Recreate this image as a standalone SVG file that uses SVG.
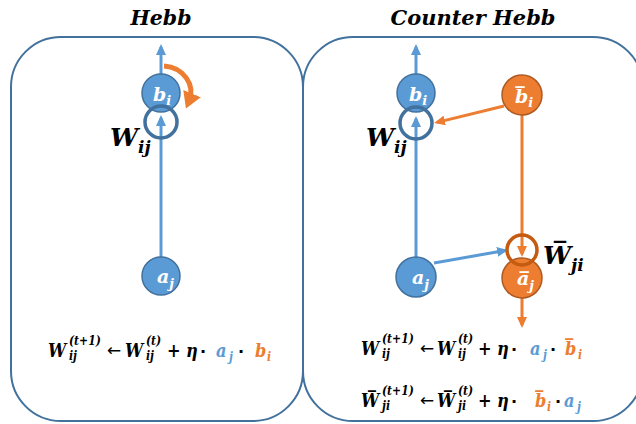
<svg xmlns="http://www.w3.org/2000/svg" width="636" height="424" viewBox="0 0 636 424">
<defs>
<style>
.box{fill:#fff;stroke:#41719c;stroke-width:2}
.bn{fill:#5b9bd5;stroke:#41719c;stroke-width:1.5}
.on{fill:#ed7d31;stroke:#ae5a21;stroke-width:1.5}
.wc{fill:none;stroke:#41719c;stroke-width:3.5}
.wo{fill:none;stroke:#c55a11;stroke-width:3.5}
.bl{stroke:#5b9bd5;stroke-width:3;fill:none}
.ol{stroke:#ed7d31;stroke-width:3;fill:none}
.m{font-family:"DejaVu Serif",serif;font-weight:bold;font-style:italic}
.nl{font-family:"DejaVu Serif",serif;font-weight:bold;font-style:italic;fill:#fff}
.t{font-family:"DejaVu Serif",serif;font-weight:bold;font-style:italic;font-size:21px;fill:#000;text-anchor:middle}
.f{font-family:"DejaVu Serif Condensed","DejaVu Serif",serif;font-stretch:condensed;font-weight:bold;font-style:italic;font-size:18px;fill:#000}
.s{font-family:"DejaVu Serif Condensed","DejaVu Serif",serif;font-stretch:condensed;font-weight:bold;font-style:italic;font-size:12px;fill:#000}
.d{font-family:"DejaVu Sans",sans-serif;font-weight:bold;font-size:16px;fill:#000}
.arr{font-family:"DejaVu Sans",sans-serif;font-size:17px;fill:#000}
.cb{fill:#5b9bd5}
.co{fill:#ed7d31}
</style>
<marker id="ab" markerUnits="userSpaceOnUse" markerWidth="11" markerHeight="10" refX="8" refY="5" orient="auto"><path d="M0,0 L11,5 L0,10 z" fill="#5b9bd5"/></marker>
<marker id="ao" markerUnits="userSpaceOnUse" markerWidth="11" markerHeight="10" refX="8" refY="5" orient="auto"><path d="M0,0 L11,5 L0,10 z" fill="#ed7d31"/></marker>
<marker id="aobig" markerUnits="userSpaceOnUse" markerWidth="16" markerHeight="19" refX="8" refY="9.5" orient="auto"><path d="M0,0 L16,9.5 L0,19 z" fill="#ed7d31"/></marker>
</defs>
<rect width="636" height="424" fill="#fff"/>
<g id="box-hebb"><rect class="box" x="11" y="37" width="292" height="384" rx="50" ry="50"/></g>
<g id="box-counter-hebb"><rect class="box" x="303" y="37" width="340" height="384" rx="50" ry="50"/></g>
<text class="t" x="161" y="25" textLength="61" lengthAdjust="spacingAndGlyphs">Hebb</text>
<text class="t" x="473" y="25" textLength="165" lengthAdjust="spacingAndGlyphs">Counter Hebb</text>
<g id="connectors">
<line class="bl" x1="161" y1="258" x2="161" y2="118" marker-end="url(#ab)"/>
<line class="bl" x1="161" y1="75" x2="161" y2="47" marker-end="url(#ab)"/>
<path d="M164,66 A29,26 0 0 1 189,101" stroke="#ed7d31" stroke-width="5" fill="none" marker-end="url(#aobig)"/>
<line class="bl" x1="416" y1="258" x2="416" y2="119" marker-end="url(#ab)"/>
<line class="bl" x1="416" y1="75" x2="416" y2="47" marker-end="url(#ab)"/>
<line class="ol" x1="504" y1="106" x2="437" y2="122.4" marker-end="url(#ao)"/>
<line class="ol" x1="522" y1="115" x2="522" y2="254" marker-end="url(#ao)"/>
<line class="bl" x1="434" y1="263" x2="505" y2="250.5" marker-end="url(#ab)"/>
<line class="ol" x1="522" y1="298" x2="522" y2="325" marker-end="url(#ao)"/>
</g>
<g id="hebb-b">
<circle class="bn" cx="161" cy="93" r="19"/>
<text class="nl" x="153" y="101" font-size="19">b<tspan font-size="13" dy="4">i</tspan></text>
</g>
<g id="hebb-w">
<circle class="wc" cx="161" cy="122" r="16"/>
<text class="m" x="110" y="146" font-size="25">W<tspan font-size="17" dy="7">ij</tspan></text>
</g>
<g id="hebb-a">
<circle class="bn" cx="161" cy="276" r="19"/>
<text class="nl" x="157" y="283" font-size="19">a<tspan font-size="13" dy="5">j</tspan></text>
</g>
<g id="counter-b">
<circle class="bn" cx="416" cy="93" r="19"/>
<text class="nl" x="409" y="101" font-size="19">b<tspan font-size="13" dy="4">i</tspan></text>
</g>
<g id="counter-w">
<circle class="wc" cx="416" cy="123" r="16"/>
<text class="m" x="366" y="146" font-size="25">W<tspan font-size="17" dy="7">ij</tspan></text>
</g>
<g id="counter-a">
<circle class="bn" cx="416" cy="277" r="20"/>
<text class="nl" x="412" y="284" font-size="19">a<tspan font-size="13" dy="5">j</tspan></text>
</g>
<g id="counter-bbar">
<circle class="on" cx="522" cy="95" r="20"/>
<text class="nl" x="515" y="103" font-size="19">b̅<tspan font-size="13" dy="4">i</tspan></text>
</g>
<g id="counter-abar">
<circle class="on" cx="522" cy="278" r="20"/>
<text class="nl" x="517" y="285" font-size="19">a̅<tspan font-size="13" dy="5">j</tspan></text>
</g>
<g id="counter-wbar">
<circle class="wo" cx="522" cy="250" r="15"/>
<text class="m" x="543" y="264" font-size="25">W̅<tspan font-size="17" dy="7">ji</tspan></text>
</g>
<g id="formula-hebb">
<text class="f" x="48" y="357">W</text>
<text class="s" x="69" y="345">(t+1)</text>
<text class="s" x="69" y="360">ij</text>
<text class="arr" x="107" y="356">←</text>
<text class="f" x="125" y="357">W</text>
<text class="s" x="146" y="345">(t)</text>
<text class="s" x="146" y="360">ij</text>
<text class="f" x="167" y="357">+</text>
<text class="f" x="186" y="357">η</text>
<text class="d" x="200" y="357">·</text>
<text class="f cb" x="216" y="357">a</text>
<text class="s cb" x="229" y="361">j</text>
<text class="d" x="238" y="357">·</text>
<text class="f co" x="255" y="357">b</text>
<text class="s co" x="267" y="361">i</text>
</g>
<g id="formula-counter-w">
<text class="f" x="361" y="355">W</text>
<text class="s" x="382" y="343">(t+1)</text>
<text class="s" x="382" y="358">ij</text>
<text class="arr" x="420" y="354">←</text>
<text class="f" x="437" y="355">W</text>
<text class="s" x="458" y="343">(t)</text>
<text class="s" x="458" y="358">ij</text>
<text class="f" x="478" y="355">+</text>
<text class="f" x="497" y="355">η</text>
<text class="d" x="511" y="355">·</text>
<text class="f cb" x="530" y="355">a</text>
<text class="s cb" x="543" y="359">j</text>
<text class="d" x="550" y="355">·</text>
<text class="f co" x="565" y="355">b̅</text>
<text class="s co" x="578" y="359">i</text>
</g>
<g id="formula-counter-wbar">
<text class="f" x="361" y="407">W̅</text>
<text class="s" x="382" y="395">(t+1)</text>
<text class="s" x="382" y="410">ji</text>
<text class="arr" x="420" y="406">←</text>
<text class="f" x="437" y="407">W̅</text>
<text class="s" x="458" y="395">(t)</text>
<text class="s" x="458" y="410">ji</text>
<text class="f" x="478" y="407">+</text>
<text class="f" x="497" y="407">η</text>
<text class="d" x="511" y="407">·</text>
<text class="f co" x="535" y="407">b̅</text>
<text class="s co" x="547" y="411">i</text>
<text class="d" x="555" y="407">·</text>
<text class="f cb" x="564" y="407">a</text>
<text class="s cb" x="577" y="411">j</text>
</g>
</svg>
